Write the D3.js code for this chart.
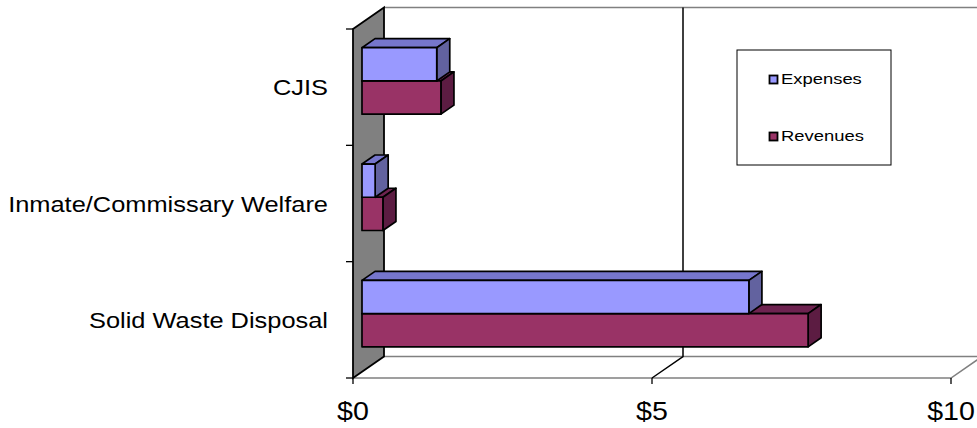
<!DOCTYPE html>
<html>
<head>
<meta charset="utf-8">
<script src="https://cdn.jsdelivr.net/npm/d3@7"></script>
<style>
  html, body { margin: 0; padding: 0; background: #fff; }
  svg { display: block; font-family: "Liberation Sans", Arial, sans-serif; }
</style>
</head>
<body>
<svg id="chart" width="977" height="428"></svg>
<script>
const categories = ["CJIS", "Inmate/Commissary Welfare", "Solid Waste Disposal"];
const seriesNames = ["Expenses", "Revenues"];
const expenses = [1.25, 0.22, 6.47];
const revenues = [1.32, 0.35, 7.46];
const tickValues = [0, 5, 10];
const tickLabels = ["$0", "$5", "$10"];

const svg = d3.select("#chart");

// front-plane scales
const x = d3.scaleLinear().domain([0, 10]).range([353, 951]);
const yCat = d3.scaleBand().domain(categories).range([29, 378]);
const yBar = d3.scaleBand().domain(categories).range([29, 378]).paddingInner(3 / 7).paddingOuter(1.5 / 7);
const ySer = d3.scaleBand().domain(seriesNames).range([0, yBar.bandwidth()]);

const DX = 31, DY = -21.5;
const proj = (v, yy, f) => [x(v) + f * DX, yy + f * DY];
const line = pts => "M" + pts.map(p => p.join(",")).join("L") + "Z";
const open = pts => "M" + pts.map(p => p.join(",")).join("L");

const yTop = yCat.range()[0], yBot = yCat.range()[1];
const vMax = x.domain()[1];

// back wall top edge
svg.append("path").attr("d", open([proj(0, yTop, 1), proj(vMax, yTop, 1)]))
  .attr("stroke", "#808080").attr("stroke-width", 1.5).attr("fill", "none");
// floor edges
svg.append("path").attr("d", open([proj(0, yBot, 1), proj(vMax, yBot, 1), proj(vMax, yBot, 0), proj(0, yBot, 0)]))
  .attr("stroke", "#808080").attr("stroke-width", 1.5).attr("fill", "none");
// gridlines on back wall + floor
tickValues.filter(v => v > 0 && v < vMax).forEach(v => {
  svg.append("path").attr("d", open([proj(v, yTop, 1), proj(v, yBot, 1), proj(v, yBot, 0)]))
    .attr("stroke", "#000").attr("stroke-width", 1.5).attr("fill", "none");
});

// side wall
svg.append("path").attr("d", line([proj(0, yTop, 0), proj(0, yTop, 1), proj(0, yBot, 1), proj(0, yBot, 0)]))
  .attr("fill", "#808080").attr("stroke", "#000").attr("stroke-width", 1.8);

// value ticks
tickValues.forEach((v, i) => {
  svg.append("line").attr("x1", x(v)).attr("x2", x(v)).attr("y1", yBot).attr("y2", yBot + 6)
    .attr("stroke", "#000").attr("stroke-width", 1.3);
  svg.append("text").attr("transform", `translate(${x(v)},420) scale(1.1,1)`)
    .attr("text-anchor", "middle").attr("font-size", 26).attr("fill", "#000").text(tickLabels[i]);
});

// category ticks
const bounds = categories.map(c => yCat(c)).concat([yBot]);
bounds.forEach(b => {
  svg.append("line").attr("x1", x(0) - 7).attr("x2", x(0)).attr("y1", b).attr("y2", b)
    .attr("stroke", "#000").attr("stroke-width", 1.3);
});
categories.forEach(c => {
  svg.append("text").attr("transform", `translate(328,${yCat(c) + yCat.bandwidth() / 2 + 8}) scale(1.155,1)`)
    .attr("text-anchor", "end").attr("font-size", 22).attr("fill", "#000").text(c);
});

// bars
const colors = {
  Expenses: { front: "#9999ff", top: "#7676cc", side: "#62629f" },
  Revenues: { front: "#993366", top: "#6e2350", side: "#5c1c42" }
};
const F1 = 0.29, F2 = 0.71;
const data = { Expenses: expenses, Revenues: revenues };
const drawOrder = ["Revenues", "Expenses"];
categories.forEach((c, ci) => {
  drawOrder.forEach(s => {
    const v = data[s][ci];
    const y0 = yBar(c) + ySer(s);
    const y1 = y0 + ySer.bandwidth();
    const col = colors[s];
    const g = svg.append("g").attr("stroke", "#000").attr("stroke-width", 1.7).attr("stroke-linejoin", "round");
    g.append("path").attr("d", line([proj(0, y0, F1), proj(0, y0, F2), proj(v, y0, F2), proj(v, y0, F1)])).attr("fill", col.top);
    g.append("path").attr("d", line([proj(v, y0, F1), proj(v, y0, F2), proj(v, y1, F2), proj(v, y1, F1)])).attr("fill", col.side);
    g.append("path").attr("d", line([proj(0, y0, F1), proj(v, y0, F1), proj(v, y1, F1), proj(0, y1, F1)])).attr("fill", col.front);
  });
});

// legend
const lg = svg.append("g");
lg.append("rect").attr("x", 737).attr("y", 50).attr("width", 154).attr("height", 115)
  .attr("fill", "#fff").attr("stroke", "#000").attr("stroke-width", 1);
seriesNames.forEach((s, i) => {
  const yy = 84 + i * 57;
  lg.append("rect").attr("x", 769.5).attr("y", yy - 8.5).attr("width", 8).attr("height", 8)
    .attr("fill", colors[s].front).attr("stroke", "#000").attr("stroke-width", 1.8);
  lg.append("text").attr("transform", `translate(781,${yy}) scale(1.27,1)`)
    .attr("font-size", 14.5).attr("fill", "#000").text(s);
});
</script>
</body>
</html>
